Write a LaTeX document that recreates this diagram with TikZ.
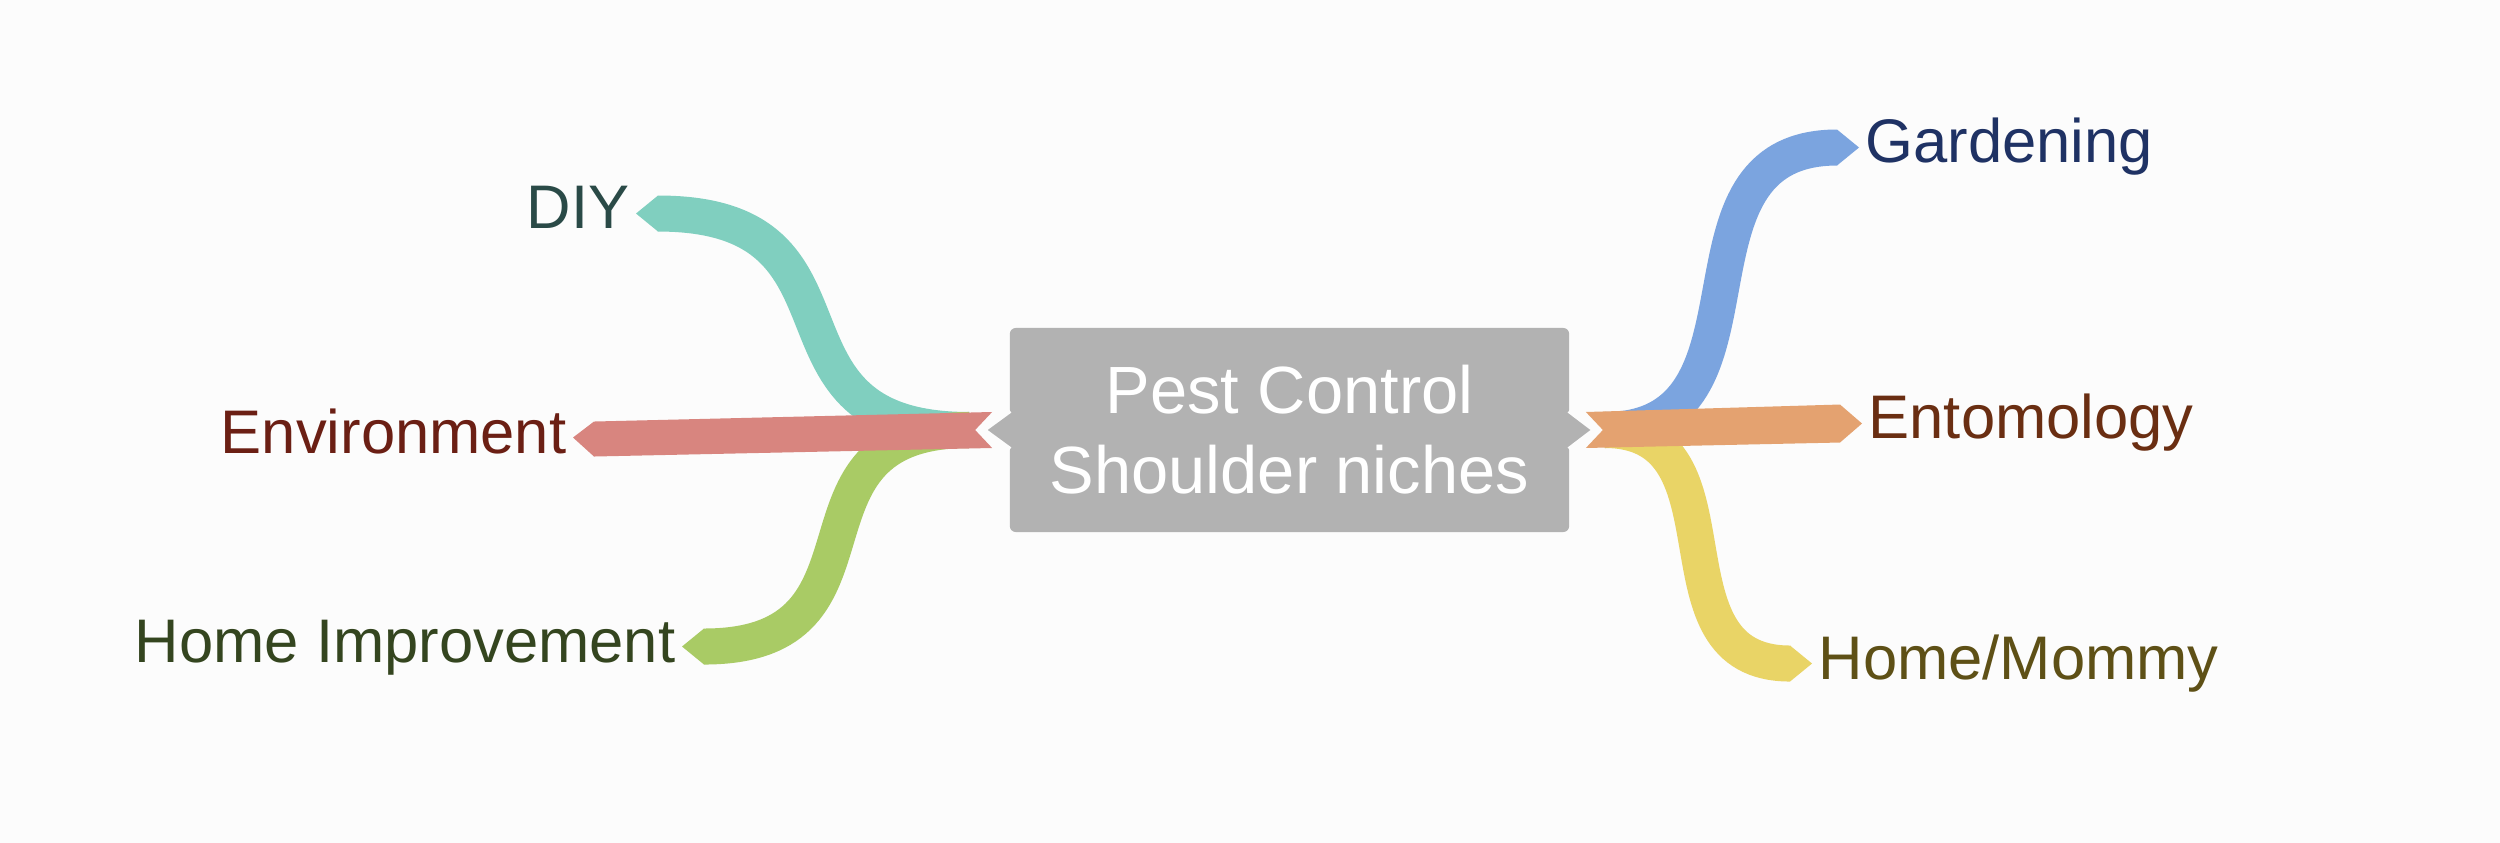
\documentclass[tikz,border=0pt]{standalone}
\usepackage{fontspec}
\setmainfont{Liberation Sans}
\usetikzlibrary{calc}

\definecolor{bgcol}{HTML}{FCFCFC}
\definecolor{boxgray}{HTML}{B2B2B2}
\definecolor{diycol}{HTML}{80CFBF}
\definecolor{envcol}{HTML}{D8857F}
\definecolor{homecol}{HTML}{A9CB65}
\definecolor{gardencol}{HTML}{7BA4DF}
\definecolor{entocol}{HTML}{E4A270}
\definecolor{mommycol}{HTML}{E9D466}
\definecolor{diytext}{HTML}{2A4A47}
\definecolor{envtext}{HTML}{6B1F14}
\definecolor{hometext}{HTML}{34451F}
\definecolor{gardentext}{HTML}{1F3264}
\definecolor{entotext}{HTML}{6A2E12}
\definecolor{mommytext}{HTML}{5E5016}

\newcommand{\halfw}{18}
\newcommand{\tipleft}[2]{%
    \fill[#1] ($(#2)+(0,-\halfw)$) -- ($(#2)+(-22,0)$) -- ($(#2)+(0,\halfw)$) -- cycle;
}
\newcommand{\tipright}[2]{%
    \fill[#1] ($(#2)+(0,-\halfw)$) -- ($(#2)+(22,0)$) -- ($(#2)+(0,\halfw)$) -- cycle;
}

\begin{document}
\begin{tikzpicture}[x=0.01cm, y=-0.01cm,
    ribbon/.style={line width=0.36cm},
    pointer/.style={fill=boxgray, draw=bgcol, line width=0.04cm},
    leaf/.style={inner sep=0pt, text height=12.5pt, text depth=3.7pt,
        font=\fontsize{17.5}{21}\selectfont},
    rootbox/.style={fill=boxgray, text=white, rounded corners=0.06cm,
        minimum width=5.59cm, minimum height=2.04cm, inner sep=0pt,
        align=center, font=\fontsize{19}{22.7}\selectfont}]

\useasboundingbox (0,0) rectangle (2500,843);
\fill[bgcol] (0,0) rectangle (2500,843);

% central topic
\node[rootbox] (root) at (1289.5,430) {Pest Control\\Shoulder niches};

% leaves
\node[leaf, text=diytext, anchor=base east] (diy) at (630,229) {DIY};
\node[leaf, text=envtext, anchor=base east] (env) at (567,453) {Environment};
\node[leaf, text=hometext, anchor=base east] (homeimp) at (676,662) {Home Improvement};
\node[leaf, text=gardentext, anchor=base west] (garden) at (1865,163) {Gardening};
\node[leaf, text=entotext, anchor=base west] (ento) at (1868,439) {Entomology};
\node[leaf, text=mommytext, anchor=base west] (mommy) at (1818,679) {Home/Mommy};

% hubs and ribbon ends
\coordinate (lhub) at ($(root.west)+(-40,0)$);
\coordinate (rhub) at ($(root.east)+(35,0)$);
\coordinate (diyend) at ($(diy.east)+(28,0)$);
\coordinate (homeend) at ($(homeimp.east)+(28,0)$);
\coordinate (gardenend) at ($(garden.west)+(-28,0)$);
\coordinate (mommyend) at ($(mommy.west)+(-28,0)$);

% curved ribbons
\draw[ribbon,diycol] (lhub) .. controls +(-225,0) and +(225,0) .. (diyend);
\draw[ribbon,homecol] (lhub) .. controls +(-200,0) and +(200,0) .. (homeend);
\draw[ribbon,gardencol] (rhub) .. controls +(180,0) and +(-180,0) .. (gardenend);
\draw[ribbon,mommycol] (rhub) .. controls +(145,0) and +(-145,0) .. (mommyend);
\tipleft{diycol}{diyend}
\tipleft{homecol}{homeend}
\tipright{gardencol}{gardenend}
\tipright{mommycol}{mommyend}

% straight ribbons
\fill[envcol] ($(root.west)+(-17,-18)$) -- ($(root.west)+(-34,0)$)
    -- ($(root.west)+(-17,18)$) -- ($(env.east)+(27,19)$)
    -- ($(env.east)+(6,0)$) -- ($(env.east)+(27,-16)$) -- cycle;
\fill[entocol] ($(root.east)+(16,-18)$) -- ($(root.east)+(33,0)$)
    -- ($(root.east)+(16,18)$) -- ($(ento.west)+(-28,19)$)
    -- ($(ento.west)+(-6,0)$) -- ($(ento.west)+(-28,-19)$) -- cycle;

% pointers of the central box
\filldraw[pointer] ($(root.west)+(1,-19)$) -- ($(root.west)+(-25,0)$) -- ($(root.west)+(1,19)$);
\filldraw[pointer] ($(root.east)+(-1,-19)$) -- ($(root.east)+(24,0)$) -- ($(root.east)+(-1,19)$);

\end{tikzpicture}
\end{document}
